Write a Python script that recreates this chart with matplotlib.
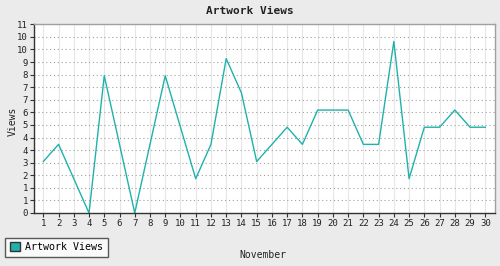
import matplotlib
matplotlib.use("Agg")
import matplotlib.pyplot as plt
from matplotlib.patches import Patch
import numpy as np

days = list(range(1, 31))
views = [3, 4, 2, 0, 8, 4, 0, 4, 8, 5, 2, 4, 9, 7, 3, 4, 5, 4, 6, 6,
         6, 4, 4, 10, 2, 5, 5, 6, 5, 5]
title = "Artwork Views"
series_name = "Artwork Views"
x_label = "November"
y_label = "Views"
y_max = 11
n_yticks = 16

line_color = "#20B2AA"
bg = "#EBEBEB"
mono = "DejaVu Sans Mono"

fig = plt.figure(figsize=(5, 2.66), dpi=100, facecolor=bg)
ax = fig.add_axes([34.3/500, 1-213/266, (495.3-34.3)/500, (213-24.3)/266])
ax.set_facecolor("white")

ax.plot(days, views, color=line_color, lw=1.0)

ax.set_xlim(1 - 9/15.24, 30 + 10/15.24)
ax.set_ylim(0, y_max)

yt = np.linspace(0, y_max, n_yticks)
ax.set_yticks(yt)
ax.set_yticklabels([str(int(round(v + 1e-9))) for v in yt])
ax.set_xticks(days)
ax.set_xticklabels([str(d) for d in days])

for lbl in ax.get_xticklabels() + ax.get_yticklabels():
    lbl.set_fontfamily(mono)
    lbl.set_fontsize(6.5)
    lbl.set_color("#222222")

ax.tick_params(axis="both", direction="out", length=3, width=0.8, color="#333333", pad=1.5)

for d in days:
    ax.axvline(d, color="#E6E6E6", lw=0.8, zorder=0)
for v in yt[1:-1]:
    ax.axhline(v, color="#A0A0A0", lw=0.8, ls=(0, (1, 2.5)), zorder=0)

ax.spines["left"].set_color("#333333")
ax.spines["bottom"].set_color("#333333")
ax.spines["top"].set_color("#A0A0A0")
ax.spines["right"].set_color("#A0A0A0")
for s in ax.spines.values():
    s.set_linewidth(1.0)

fig.text(0.5, 1-11/266, title, ha="center", va="center", fontfamily=mono,
         fontweight="bold", fontsize=8, color="#222222")
fig.text(263/500, 1-254.5/266, x_label, ha="center", va="center", fontfamily=mono,
         fontsize=7, color="#222222")
fig.text(12.5/500, 1-121/266, y_label, ha="center", va="center", rotation=90,
         fontfamily=mono, fontsize=7, color="#222222")

leg = fig.legend(handles=[Patch(facecolor=line_color, edgecolor="#333333", label=series_name)],
                 loc="lower left", bbox_to_anchor=(5.3/500, 1-256.5/266),
                 frameon=True, fancybox=False, borderpad=0.45, handlelength=1.0,
                 handleheight=1.0, handletextpad=0.55, borderaxespad=0,
                 prop={"family": mono, "size": 7.2})
leg.get_frame().set_edgecolor("#333333")
leg.get_frame().set_linewidth(1.0)

fig.savefig("out.png", dpi=100, facecolor=bg)
